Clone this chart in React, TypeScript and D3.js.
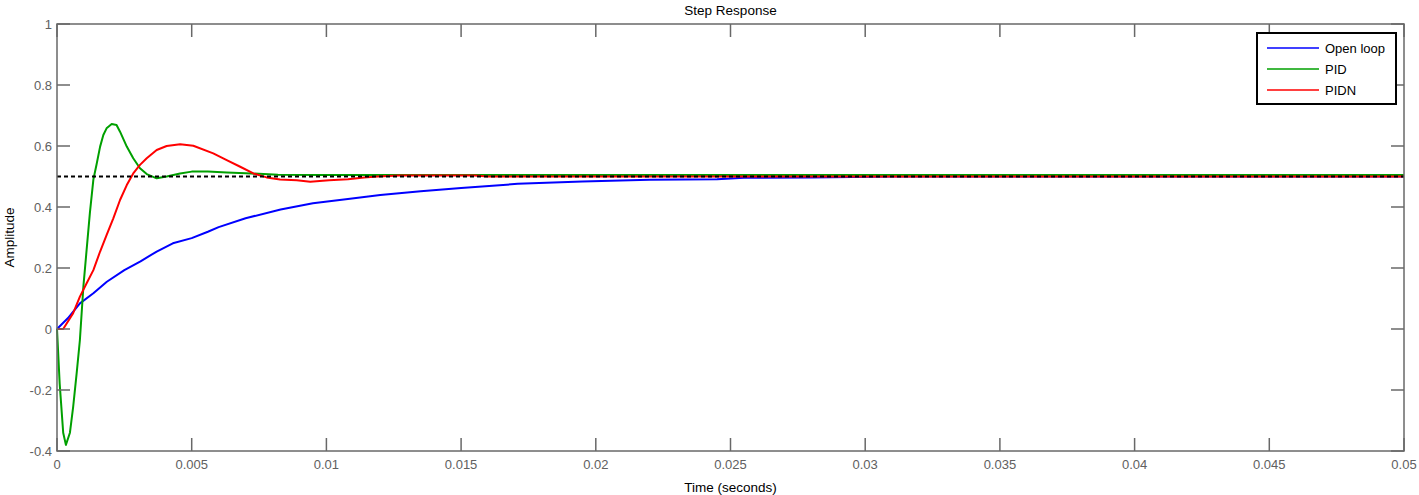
import React, { useRef, useEffect } from 'react';
import * as d3 from 'd3';

// step response data
const openLoopT = [0, 0.0004, 0.00085, 0.00135, 0.00185, 0.0025, 0.0031, 0.0037, 0.0043, 0.005, 0.0056, 0.006, 0.007, 0.0083, 0.0095, 0.0108, 0.012, 0.0135, 0.015, 0.0171, 0.0195, 0.022, 0.0245, 0.0255, 0.028, 0.031, 0.05];
const openLoopY = [0, 0.035, 0.084, 0.117, 0.155, 0.193, 0.222, 0.254, 0.281, 0.298, 0.319, 0.334, 0.363, 0.392, 0.412, 0.426, 0.439, 0.452, 0.462, 0.476, 0.484, 0.489, 0.491, 0.496, 0.497, 0.5, 0.5];

const pidT = [0, 0.0001, 0.00023, 0.00033, 0.00048, 0.0006, 0.00073, 0.00085, 0.00098, 0.0011, 0.00122, 0.00135, 0.00147, 0.0016, 0.00172, 0.00184, 0.00203, 0.00221, 0.00234, 0.00259, 0.00283, 0.00308, 0.00333, 0.0037, 0.00407, 0.00457, 0.005, 0.0056, 0.0063, 0.007, 0.0082, 0.01, 0.05];
const pidY = [0, -0.18, -0.34, -0.38, -0.34, -0.255, -0.145, -0.036, 0.14, 0.26, 0.38, 0.49, 0.54, 0.598, 0.636, 0.658, 0.672, 0.669, 0.647, 0.598, 0.56, 0.527, 0.508, 0.494, 0.5, 0.51, 0.516, 0.516, 0.513, 0.511, 0.506, 0.505, 0.505];

const pidnT = [0, 0.00023, 0.0006, 0.00085, 0.0011, 0.00135, 0.0016, 0.00184, 0.00209, 0.00234, 0.00259, 0.00283, 0.00308, 0.00333, 0.0037, 0.00407, 0.00457, 0.00506, 0.0058, 0.0063, 0.0068, 0.00729, 0.00778, 0.00828, 0.0089, 0.0094, 0.0101, 0.0108, 0.0114, 0.0119, 0.0127, 0.0155, 0.016, 0.05];
const pidnY = [0, 0, 0.052, 0.106, 0.15, 0.193, 0.254, 0.308, 0.363, 0.423, 0.472, 0.51, 0.538, 0.56, 0.587, 0.6, 0.606, 0.601, 0.576, 0.554, 0.532, 0.51, 0.497, 0.49, 0.488, 0.483, 0.488, 0.491, 0.497, 0.5, 0.503, 0.503, 0.5, 0.5];

const seriesNames = ['Open loop', 'PID', 'PIDN'];
const seriesColors = ['#0000ff', '#00a000', '#ff0000'];
const steadyState = 0.5;

const xTicks = [0, 0.005, 0.01, 0.015, 0.02, 0.025, 0.03, 0.035, 0.04, 0.045, 0.05];
const xTickLabels = ['0', '0.005', '0.01', '0.015', '0.02', '0.025', '0.03', '0.035', '0.04', '0.045', '0.05'];
const yTicks = [-0.4, -0.2, 0, 0.2, 0.4, 0.6, 0.8, 1];
const yTickLabels = ['-0.4', '-0.2', '0', '0.2', '0.4', '0.6', '0.8', '1'];

const W = 1419, H = 495;
const m = { left: 57, right: 15, top: 24, bottom: 44 };
const font = 'Liberation Sans, Arial, Helvetica, sans-serif';
const axisGray = '#686868';

export default function App() {
    const svgRef = useRef(null);

    useEffect(() => {
        const svg = d3.select(svgRef.current);
        svg.selectAll('*').remove();

        const x = d3.scaleLinear().domain([0, 0.05]).range([m.left, W - m.right]);
        const y = d3.scaleLinear().domain([-0.4, 1]).range([H - m.bottom, m.top]);
        const [x0, x1] = x.range();
        const [y0, y1] = y.range(); // y0 bottom, y1 top
        const tickLen = 13;

        const series = [
            openLoopT.map((t, i) => [t, openLoopY[i]]),
            pidT.map((t, i) => [t, pidY[i]]),
            pidnT.map((t, i) => [t, pidnY[i]])
        ];

        const line = d3.line().x(d => x(d[0])).y(d => y(d[1]));

        // curves
        series.forEach((s, i) => {
            svg.append('path')
                .attr('d', line(s))
                .attr('fill', 'none')
                .attr('stroke', seriesColors[i])
                .attr('stroke-width', 2)
                .attr('stroke-linejoin', 'round');
        });

        // steady state dashed line
        svg.append('line')
            .attr('x1', x0).attr('x2', x1)
            .attr('y1', y(steadyState)).attr('y2', y(steadyState))
            .attr('stroke', '#000')
            .attr('stroke-width', 2)
            .attr('stroke-dasharray', '4,3');

        // box
        svg.append('rect')
            .attr('x', x0).attr('y', y1)
            .attr('width', x1 - x0).attr('height', y0 - y1)
            .attr('fill', 'none')
            .attr('stroke', axisGray)
            .attr('stroke-width', 1.5);

        // ticks on all sides, pointing in
        const tg = svg.append('g').attr('stroke', axisGray).attr('stroke-width', 1.5);
        xTicks.forEach(t => {
            tg.append('line').attr('x1', x(t)).attr('x2', x(t)).attr('y1', y0).attr('y2', y0 - tickLen);
            tg.append('line').attr('x1', x(t)).attr('x2', x(t)).attr('y1', y1).attr('y2', y1 + tickLen);
        });
        yTicks.forEach(t => {
            tg.append('line').attr('x1', x0).attr('x2', x0 + tickLen).attr('y1', y(t)).attr('y2', y(t));
            tg.append('line').attr('x1', x1).attr('x2', x1 - tickLen).attr('y1', y(t)).attr('y2', y(t));
        });

        // tick labels
        svg.append('g').selectAll('text')
            .data(xTicks)
            .join('text')
            .attr('x', d => x(d))
            .attr('y', y0 + 18)
            .attr('text-anchor', 'middle')
            .attr('font-family', font)
            .attr('font-size', 13)
            .attr('fill', '#606060')
            .text((d, i) => xTickLabels[i]);

        svg.append('g').selectAll('text')
            .data(yTicks)
            .join('text')
            .attr('x', x0 - 5)
            .attr('y', d => y(d) + 4.5)
            .attr('text-anchor', 'end')
            .attr('font-family', font)
            .attr('font-size', 13)
            .attr('fill', '#606060')
            .text((d, i) => yTickLabels[i]);

        // titles
        svg.append('text')
            .attr('x', (x0 + x1) / 2).attr('y', 14.5)
            .attr('text-anchor', 'middle')
            .attr('font-family', font).attr('font-size', 13.5)
            .text('Step Response');
        svg.append('text')
            .attr('x', (x0 + x1) / 2).attr('y', 492)
            .attr('text-anchor', 'middle')
            .attr('font-family', font).attr('font-size', 13.5)
            .text('Time (seconds)');
        svg.append('text')
            .attr('transform', `translate(14,${(y0 + y1) / 2}) rotate(-90)`)
            .attr('text-anchor', 'middle')
            .attr('font-family', font).attr('font-size', 13.5)
            .text('Amplitude');

        // legend
        const lg = svg.append('g').attr('transform', 'translate(1257,33)');
        lg.append('rect')
            .attr('width', 139).attr('height', 71)
            .attr('fill', '#fff')
            .attr('stroke', '#000')
            .attr('stroke-width', 2);
        seriesNames.forEach((name, i) => {
            const ly = 15 + i * 21;
            lg.append('line')
                .attr('x1', 10).attr('x2', 62)
                .attr('y1', ly).attr('y2', ly)
                .attr('stroke', seriesColors[i])
                .attr('stroke-width', 1.5);
            lg.append('text')
                .attr('x', 68).attr('y', ly + 4.5)
                .attr('font-family', font).attr('font-size', 13)
                .text(name);
        });
    }, []);

    return (
        <svg ref={svgRef} width={W} height={H}
            style={{ position: 'absolute', left: 0, top: 0, background: '#fff' }} />
    );
}
